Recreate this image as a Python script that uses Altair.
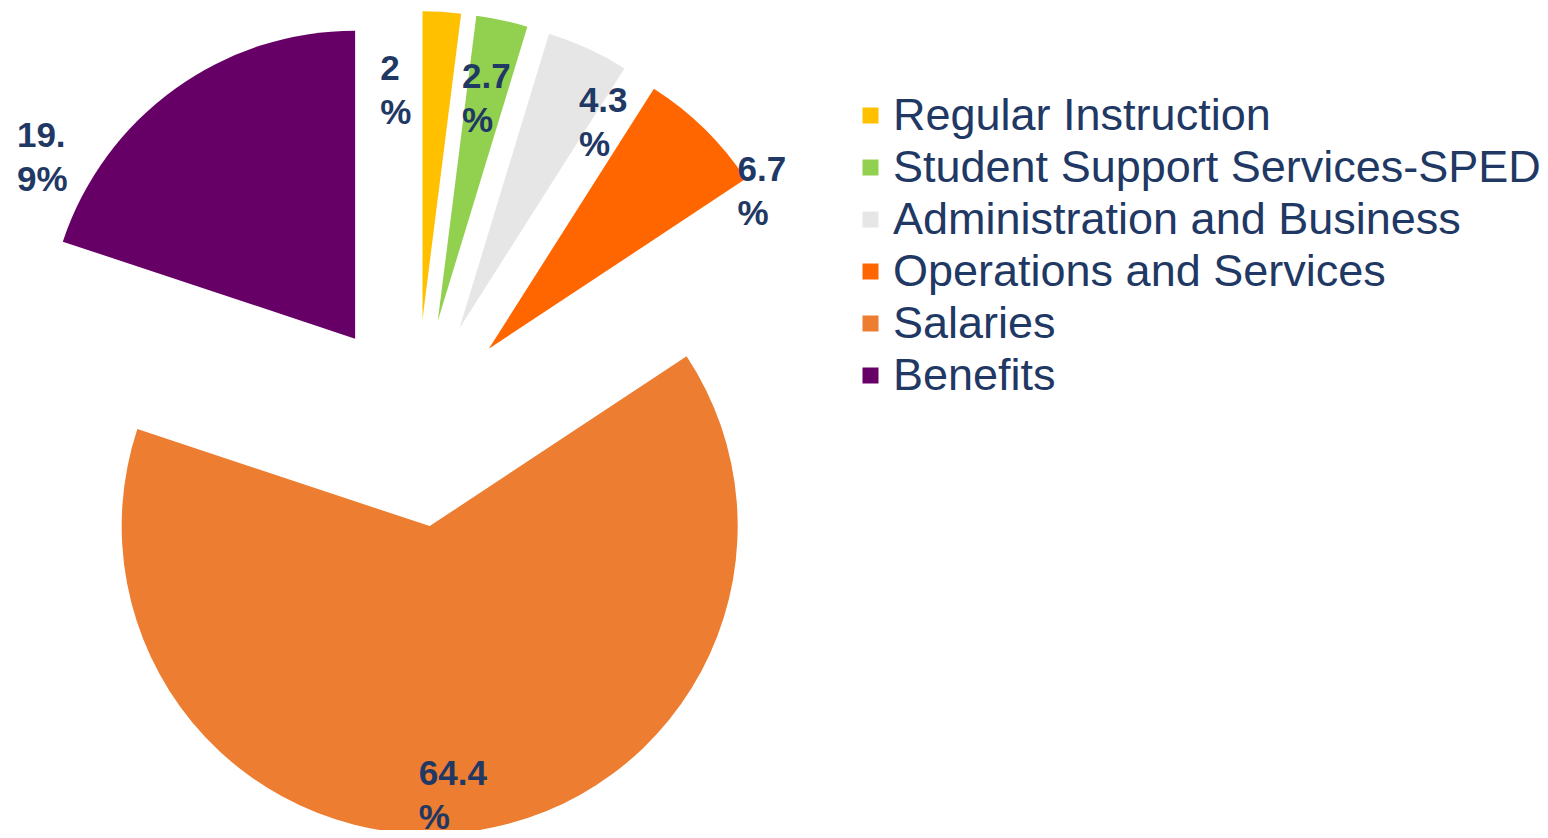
import altair as alt
import pandas as pd

categories = [
    "Regular Instruction",
    "Student Support Services-SPED",
    "Administration and Business",
    "Operations and Services",
    "Salaries",
    "Benefits",
]
values = [2.0, 2.7, 4.3, 6.7, 64.4, 19.9]
labels = ["2\n%", "2.7\n%", "4.3\n%", "6.7\n%", "64.4\n%", "19.\n9%"]
colors = ["#FFC000", "#92D050", "#E7E6E6", "#FF6600", "#ED7D31", "#660066"]

df = pd.DataFrame({
    "category": categories,
    "value": values,
    "label": labels,
    "idx": list(range(len(categories))),
})

R = 308            # outer radius in px
EXPLODE = 104 / R  # explode distance, in radius units
LABEL_RX = 1.82    # horizontal label distance from pie centre, in radius units
LABEL_RY = 1.15    # vertical label distance from pie centre, in radius units
CX, CY = 408, 415  # pie centre inside the chart

xs = alt.Scale(domain=[-1, 1], range=[CX - R, CX + R])
ys = alt.Scale(domain=[-1, 1], range=[CY + R, CY - R])

base = (
    alt.Chart(df)
    .transform_joinaggregate(total="sum(value)")
    .transform_window(cum="sum(value)", sort=[alt.SortField("idx", order="ascending")], frame=[None, 0])
    .transform_calculate(a0="2*PI*(datum.cum - datum.value)/datum.total")
    .transform_calculate(a1="2*PI*datum.cum/datum.total")
    .transform_calculate(mid="(datum.a0 + datum.a1)/2")
    .transform_calculate(ex=f"{EXPLODE}*sin(datum.mid)")
    .transform_calculate(ey=f"{EXPLODE}*cos(datum.mid)")
    .transform_calculate(lx=f"{LABEL_RX}*sin(datum.mid)")
    .transform_calculate(ly=f"{LABEL_RY}*cos(datum.mid)")
)

arcs = base.mark_arc(outerRadius=R, innerRadius=0).encode(
    x=alt.X("ex:Q", scale=xs, axis=None),
    y=alt.Y("ey:Q", scale=ys, axis=None),
    theta=alt.Theta("a0:Q", scale=None, stack=False),
    theta2="a1:Q",
    color=alt.Color(
        "category:N",
        scale=alt.Scale(domain=categories, range=colors),
        legend=alt.Legend(
            title=None,
            orient="none",
            legendX=840,
            legendY=85,
            symbolType="square",
            symbolSize=256,
            symbolStrokeWidth=0,
            labelFont="Liberation Sans",
            labelFontSize=45,
            labelColor="#1F3864",
            rowPadding=6,
            labelOffset=0,
            labelLimit=0,
        ),
    ),
)

texts = base.mark_text(
    font="Liberation Sans",
    fontSize=35,
    fontWeight="bold",
    color="#1F3864",
    lineBreak="\n",
    lineHeight=44,
    align="left",
    baseline="middle",
    dx=-71,
).encode(
    x=alt.X("lx:Q", scale=xs, axis=None),
    y=alt.Y("ly:Q", scale=ys, axis=None),
    text="label:N",
)

chart = (
    alt.layer(arcs, texts)
    .properties(width=1532, height=822, autosize=alt.AutoSizeParams(type="none"), padding=0)
    .configure_view(stroke=None)
)

chart.save("out.html", embed_options={"renderer": "svg", "actions": False})
